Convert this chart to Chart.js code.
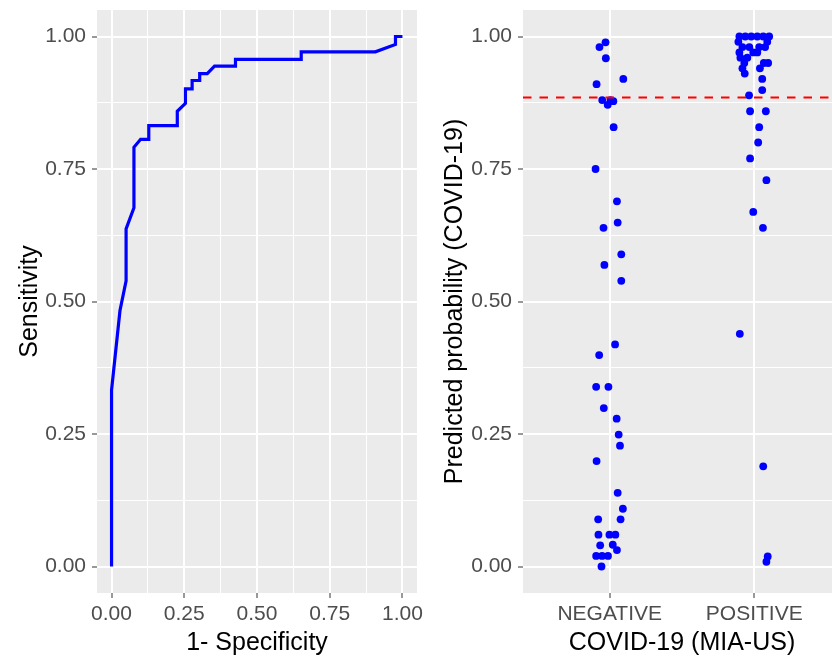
<!DOCTYPE html>
<html>
<head>
<meta charset="utf-8">
<script src="https://cdn.jsdelivr.net/npm/chart.js@4.4.1/dist/chart.umd.min.js"></script>
<style>
  html, body { margin: 0; padding: 0; background: #fff; overflow: hidden; }
  #wrap { position: relative; width: 832px; height: 658px; overflow: hidden; }
  canvas { position: absolute; top: 0; }
  #roc { left: 0; }
  #jitter { left: 420px; }
</style>
</head>
<body>
<div id="wrap">
  <canvas id="roc" width="445" height="658"></canvas>
  <canvas id="jitter" width="425" height="658"></canvas>
</div>
<script>
// ROC curve (1 - specificity, sensitivity)
const rocFpr = [0, 0, 0.029, 0.05, 0.05, 0.077, 0.077, 0.1, 0.128, 0.128, 0.226, 0.226, 0.254, 0.254,
  0.277, 0.277, 0.303, 0.303, 0.329, 0.354, 0.426, 0.426, 0.652, 0.652, 0.907, 0.976, 0.976, 1];
const rocTpr = [0, 0.333, 0.483, 0.539, 0.637, 0.677, 0.791, 0.806, 0.806, 0.832, 0.832, 0.859, 0.874, 0.901,
  0.901, 0.917, 0.917, 0.930, 0.930, 0.944, 0.944, 0.957, 0.957, 0.971, 0.971, 0.985, 1, 1];
const fprTicks = [0, 0.125, 0.25, 0.375, 0.5, 0.625, 0.75, 0.875, 1];
const probTicks = [0, 0.125, 0.25, 0.375, 0.5, 0.625, 0.75, 0.875, 1];

// jitter plot: horizontal jitter (category units) and predicted probability
const groups = ['NEGATIVE', 'POSITIVE'];
const negJitter = [-0.029, -0.071, -0.027, 0.094, -0.091, -0.052, 0.005, 0.025, -0.014, 0.027,
  -0.098, 0.050, 0.055, -0.043, 0.080, -0.037, 0.080, 0.037, -0.073, -0.094,
  -0.009, -0.041, 0.048, 0.062, 0.071, -0.091, 0.055, 0.091, -0.080, 0.075,
  -0.078, -0.002, 0.039, -0.066, 0.021, 0.050, -0.094, -0.053, -0.012, -0.057];
const negProb = [0.989, 0.980, 0.959, 0.920, 0.910, 0.880, 0.880, 0.878, 0.871, 0.829,
  0.750, 0.689, 0.649, 0.639, 0.589, 0.569, 0.539, 0.419, 0.399, 0.339,
  0.339, 0.299, 0.279, 0.249, 0.228, 0.199, 0.139, 0.109, 0.089, 0.089,
  0.060, 0.060, 0.060, 0.040, 0.041, 0.031, 0.020, 0.020, 0.020, 0.000];
const posJitter = [-0.103, -0.062, -0.021, 0.021, 0.062, 0.103, -0.11, 0.09, -0.082, -0.034,
  0.034, 0.075, -0.103, -0.007, 0.021, -0.096, -0.048, -0.069, 0.066, 0.096,
  -0.082, 0.039, -0.066, 0.055, 0.055, -0.036, -0.029, 0.080, 0.034, 0.027,
  -0.029, 0.084, -0.007, 0.060, -0.100, 0.062, 0.093, 0.084];
const posProb = [1.000, 1.000, 1.000, 1.000, 1.000, 1.000, 0.990, 0.990, 0.980, 0.980,
  0.980, 0.980, 0.970, 0.970, 0.970, 0.960, 0.960, 0.950, 0.950, 0.950,
  0.940, 0.940, 0.930, 0.920, 0.899, 0.889, 0.859, 0.859, 0.829, 0.800,
  0.770, 0.729, 0.669, 0.639, 0.439, 0.189, 0.019, 0.009];
const cutoff = 0.885;

const FONT = '"Liberation Sans", Arial, Helvetica, sans-serif';
const isMajor = v => Math.abs(v * 4 - Math.round(v * 4)) < 1e-6;

const panelBg = {
  id: 'panelBg',
  beforeDraw(chart) {
    const { ctx, chartArea: a } = chart;
    ctx.save();
    ctx.fillStyle = '#EBEBEB';
    ctx.fillRect(a.left, a.top, a.right - a.left, a.bottom - a.top);
    ctx.restore();
  }
};

const grid = {
  color: '#FFFFFF',
  lineWidth: c => (c.tick && isMajor(c.tick.value)) ? 2 : 1,
  tickColor: c => (c.tick && isMajor(c.tick.value)) ? '#333333' : 'rgba(0,0,0,0)',
  tickLength: 5,
  tickWidth: 1
};

function valueAxis(tickList, title, titlePad, vertical, size) {
  return {
    type: 'linear',
    min: -0.05,
    max: 1.05,
    afterBuildTicks: s => { s.ticks = tickList.map(v => ({ value: v })); },
    afterFit: s => {
      if (vertical) s.width = size; else s.height = size;
      s.paddingTop = 0; s.paddingBottom = 0; s.paddingLeft = 0; s.paddingRight = 0;
    },
    grid: grid,
    border: { display: false },
    ticks: {
      autoSkip: false,
      maxRotation: 0,
      minRotation: 0,
      padding: vertical ? 6 : 4,
      color: '#4D4D4D',
      font: { family: FONT, size: 21 },
      callback: v => isMajor(v) ? v.toFixed(2) : ''
    },
    title: {
      display: true,
      text: title,
      color: '#000000',
      font: { family: FONT, size: 25 },
      padding: vertical ? { top: titlePad, bottom: 0 } : { top: 0, bottom: titlePad }
    }
  };
}

const common = {
  responsive: false,
  animation: false,
  devicePixelRatio: 1,
  plugins: { legend: { display: false }, tooltip: { enabled: false } }
};

new Chart(document.getElementById('roc'), {
  type: 'scatter',
  data: {
    datasets: [{
      data: rocFpr.map((x, i) => ({ x: x, y: rocTpr[i] })),
      showLine: true,
      borderColor: '#0000FF',
      borderWidth: 3.2,
      pointRadius: 0,
      tension: 0
    }]
  },
  options: {
    ...common,
    layout: { padding: { top: 10, right: 28, left: 0, bottom: 0 } },
    scales: {
      x: valueAxis(fprTicks, '1- Specificity', 0, false, 65),
      y: valueAxis(probTicks, 'Sensitivity', 15, true, 97)
    }
  },
  plugins: [panelBg]
});

const yJ = valueAxis(probTicks, 'Predicted probability (COVID-19)', 20, true, 103);
new Chart(document.getElementById('jitter'), {
  type: 'scatter',
  data: {
    datasets: [
      {
        data: [{ x: -0.6, y: cutoff }, { x: 1.6, y: cutoff }],
        showLine: true,
        borderColor: '#FF0000',
        borderWidth: 2,
        borderDash: [8.5, 8],
        pointRadius: 0,
        order: 0
      },
      {
        data: negJitter.map((j, i) => ({ x: 0 + j, y: negProb[i] })),
        backgroundColor: '#0000FF',
        borderWidth: 0,
        pointRadius: 3.9,
        order: 1
      },
      {
        data: posJitter.map((j, i) => ({ x: 1 + j, y: posProb[i] })),
        backgroundColor: '#0000FF',
        borderWidth: 0,
        pointRadius: 3.9,
        order: 1
      }
    ]
  },
  options: {
    ...common,
    layout: { padding: { top: 10, right: 0, left: 0, bottom: 0 } },
    scales: {
      x: {
        type: 'linear',
        min: -0.6,
        max: 1.6,
        afterBuildTicks: s => { s.ticks = groups.map((g, i) => ({ value: i })); },
        afterFit: s => { s.height = 65; s.paddingLeft = 0; s.paddingRight = 0; },
        grid: { color: '#FFFFFF', lineWidth: 2, tickColor: '#333333', tickLength: 5, tickWidth: 1 },
        border: { display: false },
        ticks: {
          autoSkip: false,
          maxRotation: 0,
          minRotation: 0,
          padding: 4,
          color: '#4D4D4D',
          font: { family: FONT, size: 21 },
          callback: v => groups[v]
        },
        title: {
          display: true,
          text: 'COVID-19 (MIA-US)',
          color: '#000000',
          font: { family: FONT, size: 25 },
          padding: { top: 0, bottom: 0 }
        }
      },
      y: yJ
    }
  },
  plugins: [panelBg]
});
</script>
</body>
</html>
